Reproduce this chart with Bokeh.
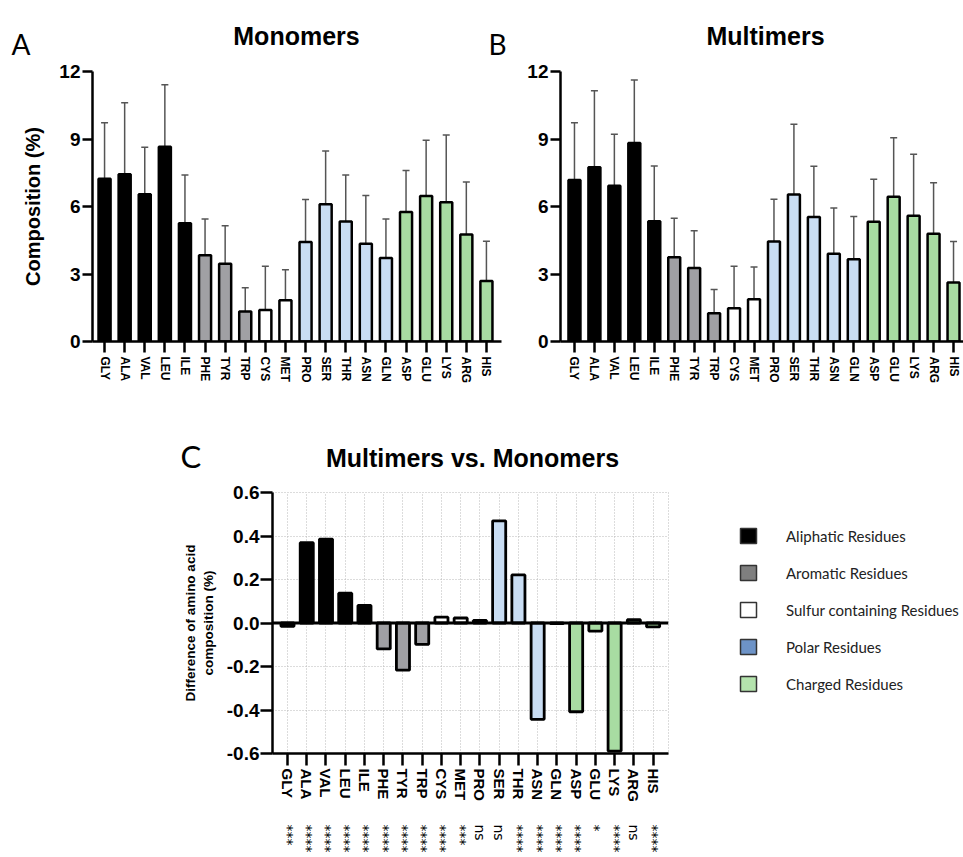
from bokeh.plotting import figure
from bokeh.layouts import column, row
from bokeh.models import (ColumnDataSource, FixedTicker, LinearAxis, Span,
                          Legend, LegendItem, Range1d, NumeralTickFormatter, Whisker, TeeHead)
from bokeh.core.properties import value
from bokeh.embed import file_html
from bokeh.resources import INLINE

residues = ["GLY", "ALA", "VAL", "LEU", "ILE", "PHE", "TYR", "TRP", "CYS", "MET",
            "PRO", "SER", "THR", "ASN", "GLN", "ASP", "GLU", "LYS", "ARG", "HIS"]
groups = ["Aliphatic"] * 5 + ["Aromatic"] * 3 + ["Sulfur"] * 2 + ["Polar"] * 5 + ["Charged"] * 5

mono_mean = [7.23, 7.43, 6.55, 8.66, 5.26, 3.83, 3.46, 1.33, 1.40, 1.83,
             4.42, 6.10, 5.33, 4.34, 3.71, 5.76, 6.47, 6.19, 4.76, 2.69]
mono_sd = [2.49, 3.18, 2.08, 2.75, 2.14, 1.61, 1.68, 1.06, 1.95, 1.36,
           1.89, 2.37, 2.07, 2.15, 1.73, 1.84, 2.47, 2.99, 2.33, 1.77]
multi_mean = [7.18, 7.74, 6.92, 8.82, 5.35, 3.74, 3.27, 1.26, 1.48, 1.88,
              4.45, 6.53, 5.53, 3.90, 3.66, 5.32, 6.43, 5.59, 4.79, 2.62]
multi_sd = [2.54, 3.40, 2.29, 2.80, 2.45, 1.74, 1.65, 1.05, 1.87, 1.43,
            1.87, 3.13, 2.26, 2.03, 1.90, 1.89, 2.63, 2.73, 2.27, 1.83]
diff = [-0.015, 0.369, 0.386, 0.137, 0.081, -0.119, -0.217, -0.098, 0.027, 0.023,
        0.012, 0.470, 0.221, -0.443, -0.003, -0.408, -0.037, -0.589, 0.015, -0.018]
significance = ["***", "****", "****", "****", "****", "****", "****", "****", "****", "***",
                "ns", "ns", "****", "****", "****", "****", "*", "****", "ns", "****"]

comp_ticks = [0, 3, 6, 9, 12]
diff_ticks = [-0.6, -0.4, -0.2, 0.0, 0.2, 0.4, 0.6]

panel_letters = ["A", "B"]
panel_titles = ["Monomers", "Multimers"]
title_c = "Multimers vs. Monomers"
letter_c = "C"

group_fill = {"Aliphatic": "#000000", "Aromatic": "#a0a0a4", "Sulfur": "#ffffff",
              "Polar": "#c9ddf3", "Charged": "#a8dca2"}
legend_labels = ["Aliphatic Residues", "Aromatic Residues", "Sulfur containing Residues",
                 "Polar Residues", "Charged Residues"]
legend_fill = ["#000000", "#7f7f7f", "#ffffff", "#6d93c7", "#b4e3ad"]

FONT = "Liberation Sans"
LETTER_FONT = "Lato"
xs = list(range(len(residues)))
colors = [group_fill[g] for g in groups]


def strip(width, height):
    # text-only band, coordinates in pixels, y measured downward
    p = figure(width=width, height=height, x_range=Range1d(0, width), y_range=Range1d(height, 0),
               output_backend="svg", toolbar_location=None, x_axis_location=None,
               y_axis_location=None, min_border=0)
    p.grid.visible = False
    p.outline_line_color = None
    return p


def style_common(p):
    p.grid.visible = False
    p.outline_line_color = None
    for ax in (p.xaxis[0], p.yaxis[0]):
        ax.axis_line_width = 2.5
        ax.major_tick_line_width = 2.5
        ax.major_tick_in = 0
        ax.minor_tick_line_color = None
        ax.major_label_text_font = FONT
        ax.major_label_text_font_style = "bold"
        ax.major_label_text_color = "black"
        ax.axis_line_color = "black"
        ax.major_tick_line_color = "black"


def bar_panel(means, sds, width, x0, x1, bl, br, ylabel):
    tops = [m + s for m, s in zip(means, sds)]
    src = ColumnDataSource(dict(x=xs, mean=means, top=tops, color=colors))
    p = figure(width=width, height=359, x_range=Range1d(x0, x1), y_range=Range1d(0, 12),
               output_backend="svg", toolbar_location=None,
               min_border_left=bl, min_border_right=br, min_border_top=10, min_border_bottom=79)
    p.add_layout(Whisker(source=src, base="x", upper="top", lower="mean", dimension="height",
                         line_color="#555555", line_width=1.5, lower_head=None,
                         upper_head=TeeHead(size=7, line_color="#555555", line_width=1.5)))
    p.vbar(x="x", top="mean", bottom=0, width=0.6, fill_color="color", line_color="black",
           line_width=2.5, source=src)
    style_common(p)
    p.xaxis.ticker = FixedTicker(ticks=xs)
    p.xaxis.major_label_overrides = {i: r for i, r in enumerate(residues)}
    p.xaxis.major_label_orientation = "vertical"
    p.xaxis.major_label_text_font_size = "12px"
    p.xaxis.major_tick_out = 11
    p.xaxis.major_label_standoff = 4
    p.yaxis.ticker = FixedTicker(ticks=comp_ticks)
    p.yaxis.major_label_text_font_size = "19px"
    p.yaxis.major_tick_out = 10
    p.yaxis.major_label_standoff = 2
    if ylabel:
        p.yaxis.axis_label = ylabel
        p.yaxis.axis_label_text_font = FONT
        p.yaxis.axis_label_text_font_style = "bold"
        p.yaxis.axis_label_text_font_size = "20px"
        p.yaxis.axis_label_text_color = "black"
        p.yaxis.axis_label_standoff = 12
    return p


# ---- top text band: panel letters and titles
top = strip(963, 61)
top.text(x=[11, 488], y=[43, 43], text=panel_letters, text_font=value(LETTER_FONT),
         text_font_size="28px", text_color="black", text_baseline="alphabetic", text_align="left")
top.text(x=[296, 765], y=[35, 35], text=panel_titles, text_font=value(FONT),
         text_font_style="bold", text_font_size="25px", text_color="black",
         text_baseline="alphabetic", text_align="center")

pA = bar_panel(mono_mean, mono_sd, 510, -0.6, 19.75, 92, 9, "Composition (%)")
pB = bar_panel(multi_mean, multi_sd, 453, -0.7, 19.5, 50, 0, None)

# ---- panel C text band
cband = strip(963, 62)
cband.text(x=[180], y=[35], text=[letter_c], text_font=value(LETTER_FONT), text_font_size="31px",
           text_color="black", text_baseline="alphabetic", text_align="left")
cband.text(x=[472], y=[37], text=[title_c], text_font=value(FONT), text_font_style="bold",
           text_font_size="25px", text_color="black", text_baseline="alphabetic",
           text_align="center")

srcC = ColumnDataSource(dict(x=xs, diff=diff, color=colors))
pC = figure(width=700, height=375, x_range=Range1d(-0.78, 19.8), y_range=Range1d(-0.6, 0.6),
            output_backend="svg", toolbar_location=None,
            min_border_left=272, min_border_right=32, min_border_top=10, min_border_bottom=104)
style_common(pC)
pC.grid.visible = True
pC.outline_line_color = "#b8b8b8"
pC.outline_line_dash = "1 2"
pC.vbar(x="x", top="diff", bottom=0, width=0.68, fill_color="color", line_color="black",
        line_width=2.8, source=srcC)
pC.add_layout(Span(location=0, dimension="width", line_color="black", line_width=2.8))
pC.xaxis.ticker = FixedTicker(ticks=xs)
pC.xgrid.ticker = FixedTicker(ticks=xs)
pC.xaxis.major_label_overrides = {i: r for i, r in enumerate(residues)}
pC.xaxis.major_label_orientation = "vertical"
pC.xaxis.major_label_text_font_size = "15px"
pC.xaxis.major_tick_out = 12
pC.xaxis.major_label_standoff = 3
pC.yaxis.ticker = FixedTicker(ticks=diff_ticks)
pC.ygrid.ticker = FixedTicker(ticks=diff_ticks)
pC.yaxis.formatter = NumeralTickFormatter(format="0.0")
pC.yaxis.major_label_text_font_size = "19px"
pC.yaxis.major_tick_out = 12
pC.yaxis.major_label_standoff = 1
pC.yaxis.axis_label = "Difference of amino acid\ncomposition (%)"
pC.yaxis.axis_label_text_font = FONT
pC.yaxis.axis_label_text_font_style = "bold"
pC.yaxis.axis_label_text_font_size = "13.5px"
pC.yaxis.axis_label_text_color = "black"
pC.yaxis.axis_label_standoff = 8
for g in (pC.xgrid[0], pC.ygrid[0]):
    g.grid_line_color = "#b8b8b8"
    g.grid_line_dash = "1 2"
    g.grid_line_width = 1

sig_axis = LinearAxis(ticker=FixedTicker(ticks=xs),
                      major_label_overrides={i: s for i, s in enumerate(significance)},
                      major_label_orientation="vertical", axis_line_color=None,
                      major_tick_line_color=None, minor_tick_line_color=None,
                      major_label_standoff=14, major_label_text_font="DejaVu Sans",
                      major_label_text_font_size="14px", major_label_text_color="black")
pC.add_layout(sig_axis, "below")

# ---- legend figure (its frame is aligned with panel C's frame in the row)
pL = figure(width=263, height=375, x_range=Range1d(0, 1), y_range=Range1d(0, 1),
            output_backend="svg", toolbar_location=None, x_axis_location=None,
            y_axis_location=None, min_border=0)
pL.grid.visible = False
pL.outline_line_color = None
items = []
for lab, col in zip(legend_labels, legend_fill):
    r = pL.vbar(x=[float("nan")], top=[float("nan")], width=0.5, fill_color=col,
                line_color="#333333", line_width=1.5)
    items.append(LegendItem(label=lab, renderers=[r]))
legend = Legend(items=items, location=(38, 60), margin=0, padding=0, glyph_width=20,
                glyph_height=19, label_height=19, spacing=18, label_standoff=28,
                label_text_font=LETTER_FONT, label_text_font_size="15px",
                label_text_color="#222222", border_line_color=None, background_fill_alpha=0)
pL.add_layout(legend, "center")

layout = column(top, row(pA, pB), cband, row(pC, pL))
open("out.html", "w").write(file_html(layout, INLINE))
